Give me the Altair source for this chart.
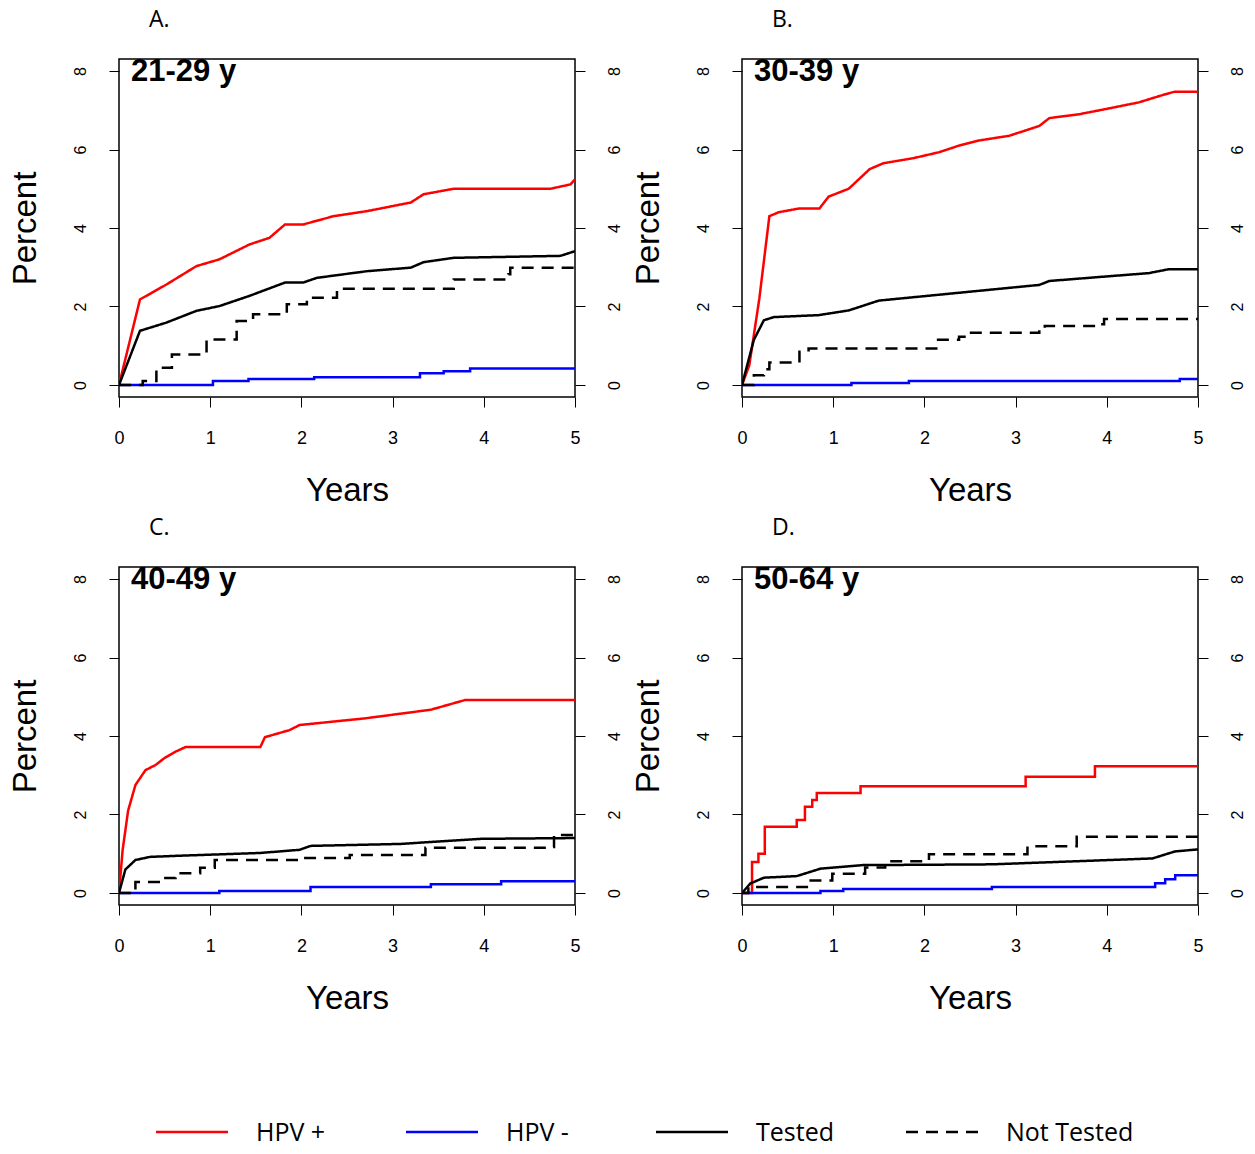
import altair as alt
import pandas as pd

# ── data (years, percent) ────────────────────────────────────────────
panels = ["21-29 y", "30-39 y", "40-49 y", "50-64 y"]
letters = ["A.", "B.", "C.", "D."]

hpv_pos_x = [
    [0, 0.23, 0.52, 0.85, 1.1, 1.43, 1.65, 1.82, 2.02, 2.35, 2.72, 3.2, 3.34, 3.67, 4.73, 4.95, 5],
    [0, 0.08, 0.19, 0.3, 0.4, 0.63, 0.85, 0.95, 1.17, 1.4, 1.55, 1.88, 2.16, 2.38, 2.6, 2.93, 3.26, 3.37, 3.7, 4.03, 4.35, 4.63, 4.74, 5],
    [0, 0.04, 0.1, 0.18, 0.29, 0.4, 0.5, 0.62, 0.73, 1.55, 1.6, 1.87, 1.98, 2.7, 3.42, 3.8, 5],
    [0, 0.05, 0.11, 0.18, 0.25, 0.6, 0.69, 0.77, 0.82, 1.3, 3.11, 3.87, 5],
]
hpv_pos_y = [
    [0, 2.18, 2.56, 3.03, 3.2, 3.58, 3.75, 4.09, 4.09, 4.3, 4.43, 4.65, 4.86, 5.0, 5.0, 5.11, 5.24],
    [0, 0.5, 2.2, 4.3, 4.4, 4.5, 4.5, 4.8, 5.0, 5.5, 5.65, 5.78, 5.93, 6.1, 6.23, 6.35, 6.6, 6.8, 6.9, 7.05, 7.2, 7.4, 7.47, 7.47],
    [0, 1.1, 2.1, 2.75, 3.13, 3.26, 3.44, 3.6, 3.72, 3.72, 3.97, 4.15, 4.28, 4.45, 4.67, 4.92, 4.92],
    [0, 0, 0.79, 1.0, 1.69, 1.86, 2.2, 2.37, 2.55, 2.72, 2.96, 3.23, 3.23],
]
hpv_neg_x = [
    [0, 1.03, 1.42, 2.14, 3.3, 3.56, 3.85, 5],
    [0, 1.2, 1.83, 4.8, 5],
    [0, 1.1, 2.1, 3.42, 4.19, 5],
    [0, 0.86, 1.11, 2.74, 4.53, 4.64, 4.75, 5],
]
hpv_neg_y = [
    [0, 0.1, 0.15, 0.2, 0.3, 0.35, 0.42, 0.42],
    [0, 0.05, 0.1, 0.15, 0.15],
    [0, 0.05, 0.15, 0.22, 0.3, 0.3],
    [0, 0.05, 0.1, 0.15, 0.25, 0.35, 0.45, 0.45],
]
tested_x = [
    [0, 0.23, 0.52, 0.85, 1.1, 1.43, 1.82, 2.02, 2.17, 2.72, 3.2, 3.34, 3.67, 4.84, 5],
    [0, 0.13, 0.24, 0.35, 0.84, 1.17, 1.5, 1.94, 2.38, 2.82, 3.26, 3.37, 3.91, 4.46, 4.68, 5],
    [0, 0.07, 0.18, 0.34, 0.67, 1.55, 1.98, 2.1, 3.09, 3.42, 3.97, 5],
    [0, 0.09, 0.24, 0.6, 0.86, 1.32, 2.74, 4.5, 4.75, 5],
]
tested_y = [
    [0, 1.38, 1.59, 1.89, 2.01, 2.27, 2.61, 2.61, 2.73, 2.9, 2.99, 3.13, 3.24, 3.29, 3.41],
    [0, 1.15, 1.65, 1.73, 1.78, 1.9, 2.15, 2.25, 2.35, 2.45, 2.55, 2.65, 2.75, 2.85, 2.95, 2.95],
    [0, 0.6, 0.84, 0.92, 0.95, 1.02, 1.1, 1.2, 1.25, 1.3, 1.38, 1.4],
    [0, 0.24, 0.39, 0.43, 0.62, 0.71, 0.73, 0.88, 1.06, 1.11],
]
not_tested_x = [
    [0, 0.26, 0.41, 0.58, 0.96, 1.29, 1.47, 1.84, 2.06, 2.39, 3.67, 4.27, 4.29, 5],
    [0, 0.13, 0.24, 0.3, 0.63, 0.73, 2.1, 2.15, 2.38, 2.49, 3.26, 3.32, 3.91, 3.97, 5],
    [0, 0.18, 0.45, 0.62, 0.89, 1.05, 1.98, 2.53, 3.36, 4.74, 4.77, 5],
    [0, 0.07, 0.73, 0.99, 1.35, 1.57, 2.05, 3.13, 3.67, 5],
]
not_tested_y = [
    [0, 0.1, 0.44, 0.78, 1.16, 1.63, 1.8, 2.06, 2.22, 2.45, 2.69, 2.82, 2.99, 2.99],
    [0, 0.25, 0.4, 0.57, 0.85, 0.93, 0.93, 1.15, 1.23, 1.33, 1.4, 1.5, 1.55, 1.68, 1.68],
    [0, 0.28, 0.38, 0.5, 0.64, 0.84, 0.89, 0.97, 1.15, 1.17, 1.48, 1.48],
    [0, 0.15, 0.32, 0.49, 0.65, 0.81, 0.99, 1.19, 1.43, 1.43],
]

legend_labels = ["HPV +", "HPV -", "Tested", "Not Tested"]
legend_colors = ["#ff0000", "#0000ff", "#000000", "#000000"]
legend_dash = [[1, 0], [1, 0], [1, 0], [12, 8]]

FONT = "Liberation Sans"
W, H = 456, 338
series = [
    ("HPV +", hpv_pos_x, hpv_pos_y, "#ff0000", [1, 0]),
    ("HPV -", hpv_neg_x, hpv_neg_y, "#0000ff", [1, 0]),
    ("Tested", tested_x, tested_y, "#000000", [1, 0]),
    ("Not Tested", not_tested_x, not_tested_y, "#000000", [12, 8]),
]

xs = alt.Scale(domain=[0, 5], nice=False, zero=False)
ys = alt.Scale(domain=[-0.306, 8.306], nice=False, zero=False)
y_common = dict(values=[0, 2, 4, 6, 8], labelAngle=270, labelFontSize=16, labelFont=FONT,
                tickSize=10, tickColor="black", domain=False, grid=False, labelColor="black",
                labelPadding=21, labelAlign="center")
x_ax = alt.Axis(values=[0, 1, 2, 3, 4, 5], labelFontSize=18, labelFont=FONT, title="Years",
                titleFontSize=33, titleFont=FONT, titleFontWeight="normal", titlePadding=27,
                tickSize=10, tickColor="black", domain=False, grid=False, labelColor="black",
                labelPadding=22, labelFlush=False)


def panel(i):
    y_left = alt.Axis(title="Percent", titleFontSize=33, titleFont=FONT, titleFontWeight="normal",
                      titlePadding=30, labelBaseline="bottom", **y_common)
    y_right = alt.Axis(orient="right", title="", labelBaseline="top", **y_common)
    layers = []
    for k, (name, sx, sy, col, dash) in enumerate(series):
        df = pd.DataFrame({"x": sx[i], "y": sy[i]})
        interp = "linear" if name == "Tested" or (name == "HPV +" and i < 3) else "step-after"
        layers.append(
            alt.Chart(df).mark_line(color=col, strokeDash=dash, strokeWidth=2.5, interpolate=interp, clip=True)
            .encode(x=alt.X("x:Q", scale=xs, axis=x_ax),
                    y=alt.Y("y:Q", scale=ys, axis=y_left if k == 0 else None))
        )
    right = alt.Chart(pd.DataFrame({"y": [0]})).mark_point(opacity=0).encode(
        y=alt.Y("y:Q", scale=ys, axis=y_right)
    )
    label = alt.Chart(pd.DataFrame({"t": [panels[i]]})).mark_text(
        font=FONT, fontSize=31, fontWeight="bold", align="left", baseline="middle"
    ).encode(text="t:N", x=alt.value(12), y=alt.value(13))
    return alt.layer(*layers, label, right).resolve_axis(y="independent").properties(
        width=W, height=H, view=alt.ViewBackground(stroke="black", strokeWidth=1.5),
        title=alt.TitleParams(letters[i], anchor="start", dx=140, fontSize=23, font="Open Sans",
                              fontWeight="normal", offset=24),
    )


row1 = alt.hconcat(panel(0), panel(1), spacing=8)
row2 = alt.hconcat(panel(2), panel(3), spacing=8)

leg_df = pd.DataFrame({"label": legend_labels})
leg_layers = []
for k in range(4):
    d = leg_df.iloc[[k]]
    x0 = 37 + 250 * k
    leg_layers.append(alt.Chart(d).mark_rule(color=legend_colors[k], strokeWidth=2.5, strokeDash=legend_dash[k])
                      .encode(x=alt.value(x0), x2=alt.value(x0 + 72), y=alt.value(108)))
    leg_layers.append(alt.Chart(d).mark_text(align="left", baseline="middle", fontSize=25, font="Open Sans")
                      .encode(x=alt.value(x0 + 100), y=alt.value(109), text="label:N"))
legend = alt.layer(*leg_layers).properties(width=1000, height=125, view=alt.ViewBackground(stroke=None))

chart = alt.vconcat(row1, row2, legend, spacing=8).configure_view(stroke=None).properties(
    padding={"left": 0, "top": 0, "right": 0, "bottom": 0}
)
chart.save("out.html", embed_options={"renderer": "svg", "actions": False})
